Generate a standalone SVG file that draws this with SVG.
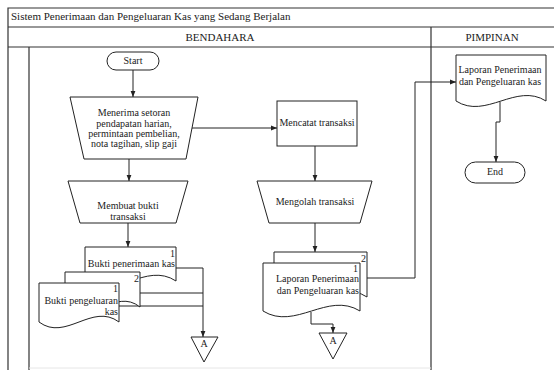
<svg xmlns="http://www.w3.org/2000/svg" width="554" height="370" viewBox="0 0 554 370">
<defs>
<marker id="ah" viewBox="0 0 10 10" refX="10" refY="5" markerWidth="6" markerHeight="6" markerUnits="userSpaceOnUse" orient="auto">
<path d="M0,1 L10,5 L0,9 Z" fill="#222"/>
</marker>
<style>
.t{font-family:"Liberation Serif","Times New Roman",serif;fill:#222;font-size:10px}
.h{font-size:11px}
.s{fill:#fff;stroke:#222;stroke-width:1}
.l{fill:none;stroke:#222;stroke-width:1}
.lane{fill:none;stroke:#333;stroke-width:1.2}
</style>
</defs>
<rect x="0" y="0" width="554" height="370" fill="#fff"/>
<g id="lanes">
<path class="lane" d="M8,370 V8 H554 M8,27 H554 M8,47 H554 M29,47 V370 M431,27 V370"/>
<path d="M29,368 H431" stroke="#e6e6e6" stroke-width="1"/>
<text class="t h" x="11" y="20">Sistem Penerimaan dan Pengeluaran Kas yang Sedang Berjalan</text>
<text class="t h" x="220" y="41" text-anchor="middle">BENDAHARA</text>
<text class="t h" x="492" y="41" text-anchor="middle">PIMPINAN</text>
</g>
<g id="connectors">
<path class="l" d="M133,70 V97" marker-end="url(#ah)"/>
<path class="l" d="M129,159 V181" marker-end="url(#ah)"/>
<path class="l" d="M128,223 V247" marker-end="url(#ah)"/>
<path class="l" d="M192,128 H277" marker-end="url(#ah)"/>
<path class="l" d="M315,146 V181" marker-end="url(#ah)"/>
<path class="l" d="M315,223 V252" marker-end="url(#ah)"/>
<path class="l" d="M367,278 H415 V82 H456" marker-end="url(#ah)"/>
<path class="l" d="M500,102 V122 H496 V162" marker-end="url(#ah)"/>
<path class="l" d="M311,312 V324 H333 V333" marker-end="url(#ah)"/>
<path class="l" d="M176,268 H203 M140,293 H203 M119,306 H203 M203,268 V337" marker-end="url(#ah)"/>
</g>
<g id="start">
<rect class="s" x="107" y="52" width="52" height="18" rx="9"/>
<text class="t" x="133" y="64" text-anchor="middle">Start</text>
</g>
<g id="menerima">
<polygon class="s" points="70,97 198,97 186,159 84,159"/>
<text class="t" x="134" y="116" text-anchor="middle">Menerima setoran</text>
<text class="t" x="134" y="127" text-anchor="middle">pendapatan harian,</text>
<text class="t" x="134" y="137" text-anchor="middle">permintaan pembelian,</text>
<text class="t" x="134" y="147" text-anchor="middle">nota tagihan, slip gaji</text>
</g>
<g id="membuat">
<polygon class="s" points="68,181 188,181 176,223 80,223"/>
<text class="t" x="128" y="209" text-anchor="middle">Membuat bukti</text>
<text class="t" x="128" y="220" text-anchor="middle">transaksi</text>
</g>
<g id="mencatat">
<rect class="s" x="277" y="101" width="80" height="45"/>
<text class="t" x="317" y="126" text-anchor="middle">Mencatat transaksi</text>
</g>
<g id="mengolah">
<polygon class="s" points="257,181 372,181 360,223 269,223"/>
<text class="t" x="315" y="205" text-anchor="middle">Mengolah transaksi</text>
</g>
<g id="bukti-penerimaan">
<path class="s" d="M85,247 H176 V281 C145.7,261 115.3,301 85,281 Z"/>
<text class="t" x="175" y="257" text-anchor="end">1</text>
<text class="t" x="175" y="267" text-anchor="end">Bukti penerimaan kas</text>
</g>
<g id="bukti-pengeluaran-2">
<path class="s" d="M65,272 H140 V307 C115,287 90,327 65,307 Z"/>
<text class="t" x="139" y="282" text-anchor="end">2</text>
</g>
<g id="bukti-pengeluaran-1">
<path class="s" d="M39,283 H119 V322 C92.3,302 65.7,342 39,322 Z"/>
<text class="t" x="118" y="292" text-anchor="end">1</text>
<text class="t" x="118" y="304" text-anchor="end">Bukti pengeluaran</text>
<text class="t" x="118" y="315" text-anchor="end">kas</text>
</g>
<g id="laporan-2">
<path class="s" d="M274,252 H367 V297 C336,277 305,317 274,297 Z"/>
<text class="t" x="366" y="262" text-anchor="end">2</text>
</g>
<g id="laporan-1">
<path class="s" d="M263,263 H360 V311 C327.7,291 295.3,331 263,311 Z"/>
<text class="t" x="358" y="272" text-anchor="end">1</text>
<text class="t" x="359" y="282" text-anchor="end">Laporan Penerimaan</text>
<text class="t" x="359" y="294" text-anchor="end">dan Pengeluaran kas</text>
</g>
<g id="connector-a-1">
<polygon class="s" points="191,337 218,337 204,362"/>
<text class="t" x="204" y="347" text-anchor="middle" font-size="9">A</text>
</g>
<g id="connector-a-2">
<polygon class="s" points="319,333 347,333 333,359"/>
<text class="t" x="333" y="344" text-anchor="middle" font-size="9">A</text>
</g>
<g id="laporan-pimpinan">
<path class="s" d="M456,55 H546 V101 C516,82 486,120 456,101 Z"/>
<text class="t" x="500" y="73" text-anchor="middle">Laporan Penerimaan</text>
<text class="t" x="500" y="85" text-anchor="middle">dan Pengeluaran kas</text>
</g>
<g id="end">
<rect class="s" x="465" y="162" width="60" height="21" rx="10.5"/>
<text class="t" x="495" y="175" text-anchor="middle">End</text>
</g>
</svg>
